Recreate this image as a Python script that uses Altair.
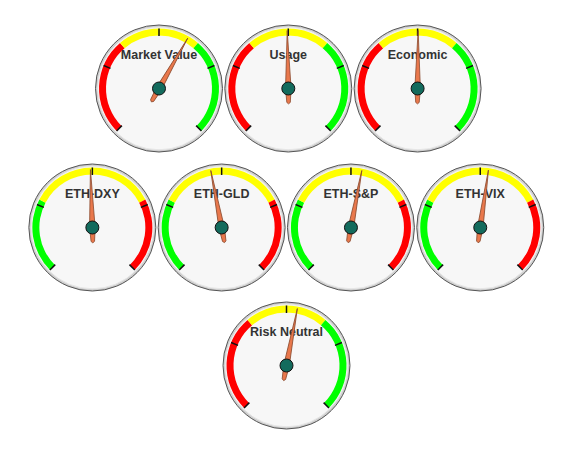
import math
import altair as alt
import pandas as pd

# ---- data ----
names = ["Market Value", "Usage", "Economic",
         "ETH-DXY", "ETH-GLD", "ETH-S&P", "ETH-VIX",
         "Risk Neutral"]
values = [61, 49.6, 50.2, 49.3, 46, 54, 53, 54]
band_low = [35, 35, 35, 27, 27, 27, 27, 35]
band_high = [65, 65, 65, 73, 73, 73, 73, 65]
band_colors = [
    ["#ff0000", "#ffff00", "#00ff00"],
    ["#ff0000", "#ffff00", "#00ff00"],
    ["#ff0000", "#ffff00", "#00ff00"],
    ["#00ff00", "#ffff00", "#ff0000"],
    ["#00ff00", "#ffff00", "#ff0000"],
    ["#00ff00", "#ffff00", "#ff0000"],
    ["#00ff00", "#ffff00", "#ff0000"],
    ["#ff0000", "#ffff00", "#00ff00"],
]
tick_values = [0, 25, 50, 75, 100]
gauge_min, gauge_max = 0, 100

# ---- layout (pixels, relative to plot origin) ----
row_sizes = [3, 4, 1]
row_centers_x = [280.3, 278.3, 278.5]
row_y = [80.5, 219.5, 357.5]
spacing = 129.3

cx, cy = [], []
for r, n in enumerate(row_sizes):
    for i in range(n):
        cx.append(row_centers_x[r] + (i - (n - 1) / 2) * spacing)
        cy.append(row_y[r])

gauges = pd.DataFrame({"name": names, "value": values, "cx": cx, "cy": cy})
gauges["ty"] = gauges["cy"] - 33.5

bands = []
for k in range(len(names)):
    edges = [gauge_min, band_low[k], band_high[k], gauge_max]
    for j in range(3):
        bands.append({"cx": cx[k], "cy": cy[k], "start": edges[j],
                      "end": edges[j + 1], "color": band_colors[k][j]})
bands = pd.DataFrame(bands)

ticks = pd.DataFrame([{"cx": cx[k], "cy": cy[k], "tick": t}
                      for k in range(len(names)) for t in tick_values])

X = alt.X("cx:Q", scale=None)
Y = alt.Y("cy:Q", scale=None)
angle_scale = alt.Scale(domain=[gauge_min, gauge_max], range=[225, 495])

outer = alt.Chart(gauges).mark_point(
    shape="circle", filled=True, fill="#cfcfcf", stroke="#555555",
    strokeWidth=1, opacity=1, size=(2 * 63.5) ** 2
).encode(x=X, y=Y)

inner = alt.Chart(gauges).mark_point(
    shape="circle", filled=True, fill="#f7f7f7", stroke="#e6e6e6",
    strokeWidth=1, opacity=1, size=(2 * 61.3) ** 2
).encode(x=X, y=Y)

arcs = alt.Chart(bands).mark_arc(radius=60, radius2=53).encode(
    x=X, y=Y,
    theta=alt.Theta("start:Q", stack=None,
                    scale=alt.Scale(domain=[gauge_min, gauge_max],
                                    range=[5 * math.pi / 4, 11 * math.pi / 4])),
    theta2="end:Q",
    color=alt.Color("color:N", scale=None),
)

tick_marks = alt.Chart(ticks).mark_point(
    shape="M0,-1L0,-0.875", filled=False, stroke="#111111",
    strokeWidth=1.5, opacity=1, size=(2 * 60) ** 2
).encode(x=X, y=Y, angle=alt.Angle("tick:Q", scale=angle_scale))

labels = alt.Chart(gauges).mark_text(
    font="Liberation Sans", fontWeight="bold", fontSize=12.5,
    color="#333333", baseline="middle", align="center"
).encode(x=X, y=alt.Y("ty:Q", scale=None), text="name:N")

needle = alt.Chart(gauges).mark_point(
    shape="M0,-1L0.048,0L0.03,0.24L0,0.265L-0.03,0.24L-0.048,0Z",
    filled=True, fill="#e9784c", stroke="#8a4a2e", strokeWidth=0.8,
    opacity=1, size=(2 * 58) ** 2
).encode(x=X, y=Y, angle=alt.Angle("value:Q", scale=angle_scale))

hub = alt.Chart(gauges).mark_point(
    shape="circle", filled=True, fill="#136b5d", stroke="#111111",
    strokeWidth=1, opacity=1, size=13 ** 2
).encode(x=X, y=Y)

chart = alt.layer(outer, inner, arcs, tick_marks, labels, needle, hub).properties(
    width=554, height=433, padding=0, autosize="none"
).configure_view(stroke=None)

chart.save("out.html", embed_options={"renderer": "svg", "actions": False})
